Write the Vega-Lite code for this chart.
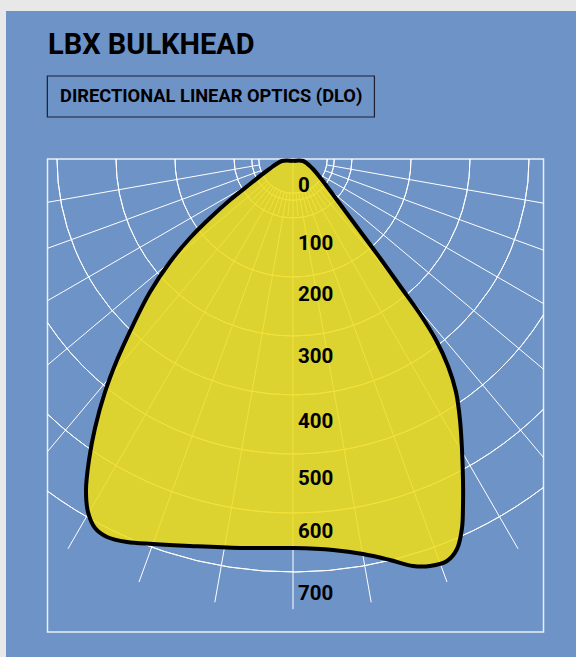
{
  "$schema": "https://vega.github.io/schema/vega-lite/v6.json",
  "width": 570,
  "height": 646,
  "autosize": "none",
  "padding": {"left": 6, "top": 11, "right": 0, "bottom": 0},
  "background": "#E8E8E8",
  "view": {"fill": "#6E93C7", "stroke": null},
  "layer": [
    {
      "data": {"values": [
        {"r": 58, "t1": 1.5708, "t2": 4.7124},
        {"r": 70, "t1": 1.5708, "t2": 4.7124},
        {"r": 100, "t1": 1.5708, "t2": 4.7124},
        {"r": 200, "t1": 1.5708, "t2": 4.7124},
        {"r": 300, "t1": 1.5708, "t2": 4.7124},
        {"r": 400, "t1": 1.5708, "t2": 4.7124},
        {"r": 500, "t1": 2.1276, "t2": 4.1242},
        {"r": 600, "t1": 2.3562, "t2": 3.9078},
        {"r": 700, "t1": 2.4906, "t2": 3.7786}
      ]},
      "mark": {"type": "arc", "filled": false, "stroke": "#FFFFFF", "strokeWidth": 1},
      "encoding": {
        "x": {"datum": 0, "type": "quantitative", "scale": {"domain": [-486.44, 479.66], "nice": false, "zero": false}, "axis": null},
        "y": {"datum": 0, "type": "quantitative", "scale": {"domain": [-250.85, 844.07], "nice": false, "zero": false, "reverse": true}, "axis": null},
        "radius": {"field": "r", "type": "quantitative", "scale": {"type": "linear", "domain": [0, 700], "range": [0, 413], "zero": true, "nice": false}},
        "radius2": {"field": "r"},
        "theta": {"field": "t1", "type": "quantitative", "scale": null, "stack": null},
        "theta2": {"field": "t2"}
      }
    },
    {
      "data": {"values": [
        {"x1": 0, "y1": 0, "x2": 0, "y2": 763},
        {"x1": 10.07, "y1": 57.12, "x2": 132.5, "y2": 751.4},
        {"x1": -10.07, "y1": 57.12, "x2": -132.5, "y2": 751.4},
        {"x1": 19.84, "y1": 54.5, "x2": 261.0, "y2": 717.0},
        {"x1": -19.84, "y1": 54.5, "x2": -261.0, "y2": 717.0},
        {"x1": 29.0, "y1": 50.23, "x2": 381.5, "y2": 660.8},
        {"x1": -29.0, "y1": 50.23, "x2": -381.5, "y2": 660.8},
        {"x1": 37.28, "y1": 44.43, "x2": 424.6, "y2": 506.0},
        {"x1": -37.28, "y1": 44.43, "x2": -416.1, "y2": 495.9},
        {"x1": 44.43, "y1": 37.28, "x2": 424.6, "y2": 356.3},
        {"x1": -44.43, "y1": 37.28, "x2": -416.1, "y2": 349.2},
        {"x1": 50.23, "y1": 29.0, "x2": 424.6, "y2": 245.1},
        {"x1": -50.23, "y1": 29.0, "x2": -416.1, "y2": 240.2},
        {"x1": 54.5, "y1": 19.84, "x2": 424.6, "y2": 154.5},
        {"x1": -54.5, "y1": 19.84, "x2": -416.1, "y2": 151.4},
        {"x1": 57.12, "y1": 10.07, "x2": 424.6, "y2": 74.9},
        {"x1": -57.12, "y1": 10.07, "x2": -416.1, "y2": 73.4},
        {"x1": 5.06, "y1": 57.78, "x2": 8.45, "y2": 96.63},
        {"x1": -5.06, "y1": 57.78, "x2": -8.45, "y2": 96.63},
        {"x1": 15.01, "y1": 56.02, "x2": 25.11, "y2": 93.7},
        {"x1": -15.01, "y1": 56.02, "x2": -25.11, "y2": 93.7},
        {"x1": 24.51, "y1": 52.57, "x2": 40.99, "y2": 87.91},
        {"x1": -24.51, "y1": 52.57, "x2": -40.99, "y2": 87.91},
        {"x1": 33.27, "y1": 47.51, "x2": 55.64, "y2": 79.46},
        {"x1": -33.27, "y1": 47.51, "x2": -55.64, "y2": 79.46},
        {"x1": 41.01, "y1": 41.01, "x2": 68.59, "y2": 68.59},
        {"x1": -41.01, "y1": 41.01, "x2": -68.59, "y2": 68.59}
      ]},
      "mark": {"type": "rule", "stroke": "#FFFFFF", "strokeWidth": 1},
      "encoding": {
        "x": {"field": "x1", "type": "quantitative", "scale": {"domain": [-486.44, 479.66], "nice": false, "zero": false}, "axis": null},
        "y": {"field": "y1", "type": "quantitative", "scale": {"domain": [-250.85, 844.07], "nice": false, "zero": false, "reverse": true}, "axis": null},
        "x2": {"field": "x2"},
        "y2": {"field": "y2"}
      }
    },
    {
      "data": {"values": [{}]},
      "mark": {"type": "rect", "filled": false, "stroke": "#FFFFFF", "strokeWidth": 1.5, "strokeOpacity": 0.85},
      "encoding": {
        "x": {"datum": -416.1, "type": "quantitative", "scale": {"domain": [-486.44, 479.66], "nice": false, "zero": false}, "axis": null},
        "x2": {"datum": 424.6},
        "y": {"datum": 0, "type": "quantitative", "scale": {"domain": [-250.85, 844.07], "nice": false, "zero": false, "reverse": true}, "axis": null},
        "y2": {"datum": 801.7}
      }
    },
    {
      "data": {"values": [
        {"i": 1, "px": 0, "py": 3.39},
        {"i": 2, "px": 16.95, "py": 3.39},
        {"i": 3, "px": 32.2, "py": 15.25},
        {"i": 4, "px": 49.15, "py": 35.59},
        {"i": 5, "px": 79.66, "py": 76.27},
        {"i": 6, "px": 113.56, "py": 122.03},
        {"i": 7, "px": 147.46, "py": 167.8},
        {"i": 8, "px": 181.36, "py": 215.25},
        {"i": 9, "px": 215.25, "py": 262.71},
        {"i": 10, "px": 242.37, "py": 306.78},
        {"i": 11, "px": 262.71, "py": 350.85},
        {"i": 12, "px": 276.27, "py": 394.92},
        {"i": 13, "px": 283.05, "py": 442.37},
        {"i": 14, "px": 286.44, "py": 493.22},
        {"i": 15, "px": 288.14, "py": 544.07},
        {"i": 16, "px": 288.14, "py": 586.44},
        {"i": 17, "px": 286.44, "py": 625.42},
        {"i": 18, "px": 277.97, "py": 661.02},
        {"i": 19, "px": 261.02, "py": 681.36},
        {"i": 20, "px": 232.2, "py": 689.83},
        {"i": 21, "px": 203.39, "py": 689.83},
        {"i": 22, "px": 164.41, "py": 679.66},
        {"i": 23, "px": 118.64, "py": 669.49},
        {"i": 24, "px": 67.8, "py": 662.71},
        {"i": 25, "px": 0, "py": 659.32},
        {"i": 26, "px": -89.83, "py": 659.32},
        {"i": 27, "px": -174.58, "py": 655.93},
        {"i": 28, "px": -237.29, "py": 652.54},
        {"i": 29, "px": -281.36, "py": 649.15},
        {"i": 30, "px": -315.25, "py": 640.68},
        {"i": 31, "px": -335.59, "py": 625.42},
        {"i": 32, "px": -347.46, "py": 598.31},
        {"i": 33, "px": -350.85, "py": 561.02},
        {"i": 34, "px": -345.76, "py": 510.17},
        {"i": 35, "px": -335.59, "py": 455.93},
        {"i": 36, "px": -318.64, "py": 394.92},
        {"i": 37, "px": -298.31, "py": 340.68},
        {"i": 38, "px": -271.19, "py": 281.36},
        {"i": 39, "px": -242.37, "py": 225.42},
        {"i": 40, "px": -208.47, "py": 174.58},
        {"i": 41, "px": -174.58, "py": 133.9},
        {"i": 42, "px": -140.68, "py": 100.0},
        {"i": 43, "px": -106.78, "py": 69.49},
        {"i": 44, "px": -72.88, "py": 42.37},
        {"i": 45, "px": -42.37, "py": 18.64},
        {"i": 46, "px": -18.64, "py": 3.39},
        {"i": 47, "px": 0, "py": 3.39}
      ]},
      "mark": {"type": "line", "interpolate": "catmull-rom", "fill": "#EFDC17", "fillOpacity": 0.86, "stroke": "#000000", "strokeWidth": 4, "strokeJoin": "round"},
      "encoding": {
        "x": {"field": "px", "type": "quantitative", "scale": {"domain": [-486.44, 479.66], "nice": false, "zero": false}, "axis": null},
        "y": {"field": "py", "type": "quantitative", "scale": {"domain": [-250.85, 844.07], "nice": false, "zero": false, "reverse": true}, "axis": null},
        "order": {"field": "i", "type": "quantitative"}
      }
    },
    {
      "data": {"values": [
        {"label": "0", "pos": 45.8},
        {"label": "100", "pos": 144.9},
        {"label": "200", "pos": 230.5},
        {"label": "300", "pos": 336.4},
        {"label": "400", "pos": 446.6},
        {"label": "500", "pos": 543.2},
        {"label": "600", "pos": 631.4},
        {"label": "700", "pos": 738.1}
      ]},
      "mark": {"type": "text", "align": "left", "baseline": "middle", "dx": 5, "font": "Roboto", "fontWeight": "bold", "fontSize": 20.5, "color": "#000000"},
      "encoding": {
        "x": {"datum": 0, "type": "quantitative", "scale": {"domain": [-486.44, 479.66], "nice": false, "zero": false}, "axis": null},
        "y": {"field": "pos", "type": "quantitative", "scale": {"domain": [-250.85, 844.07], "nice": false, "zero": false, "reverse": true}, "axis": null},
        "text": {"field": "label"}
      }
    },
    {
      "data": {"values": [{}]},
      "mark": {"type": "rect", "filled": false, "stroke": "#1B2030", "strokeWidth": 1.2},
      "encoding": {
        "x": {"datum": -416.4, "type": "quantitative", "scale": {"domain": [-486.44, 479.66], "nice": false, "zero": false}, "axis": null},
        "x2": {"datum": 138.0},
        "y": {"datum": -140.7, "type": "quantitative", "scale": {"domain": [-250.85, 844.07], "nice": false, "zero": false, "reverse": true}, "axis": null},
        "y2": {"datum": -71.2}
      }
    },
    {
      "data": {"values": [{"t": "LBX BULKHEAD"}]},
      "mark": {"type": "text", "align": "left", "baseline": "alphabetic", "font": "Roboto", "fontWeight": "bold", "fontSize": 29, "color": "#000000"},
      "encoding": {
        "x": {"datum": -415.3, "type": "quantitative", "scale": {"domain": [-486.44, 479.66], "nice": false, "zero": false}, "axis": null},
        "y": {"datum": -178.0, "type": "quantitative", "scale": {"domain": [-250.85, 844.07], "nice": false, "zero": false, "reverse": true}, "axis": null},
        "text": {"field": "t"}
      }
    },
    {
      "data": {"values": [{"t": "DIRECTIONAL LINEAR OPTICS (DLO)"}]},
      "mark": {"type": "text", "align": "left", "baseline": "alphabetic", "font": "Roboto", "fontWeight": "bold", "fontSize": 18.3, "color": "#000000"},
      "encoding": {
        "x": {"datum": -394.9, "type": "quantitative", "scale": {"domain": [-486.44, 479.66], "nice": false, "zero": false}, "axis": null},
        "y": {"datum": -96.6, "type": "quantitative", "scale": {"domain": [-250.85, 844.07], "nice": false, "zero": false, "reverse": true}, "axis": null},
        "text": {"field": "t"}
      }
    }
  ]
}
